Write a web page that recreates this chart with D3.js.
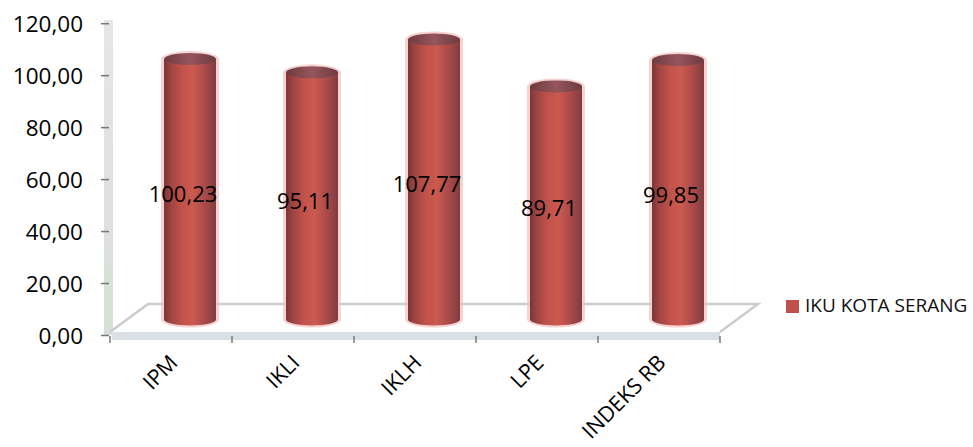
<!DOCTYPE html>
<html>
<head>
<meta charset="utf-8">
<script src="https://cdn.jsdelivr.net/npm/d3@7"></script>
<style>
  html, body { margin: 0; padding: 0; background: #fff; }
  svg { display: block; font-family: "Open Sans", "Liberation Sans", sans-serif; }
</style>
</head>
<body>
<svg id="chart" width="973" height="447"></svg>
<script>
// Indikator kinerja utama, Kota Serang
const categories = ["IPM", "IKLI", "IKLH", "LPE", "INDEKS RB"];
const values = [100.23, 95.11, 107.77, 89.71, 99.85];
const yTicks = [0, 20, 40, 60, 80, 100, 120];
const seriesName = "IKU KOTA SERANG";

const locale = d3.formatLocale({ decimal: ",", thousands: ".", grouping: [3], currency: ["", ""] });
const fmt = locale.format(".2f");

const svg = d3.select("#chart");

const x = d3.scaleBand().domain(categories).range([110, 720]).padding(0);
const y = d3.scaleLinear().domain([0, 120]).range([335, 23.2]);

// 3D depth of the floor (back edge offset) and the bars' plane (half depth)
const depthX = 38, depthY = -31;
const midX = depthX / 2, midY = depthY / 2;

const defs = svg.append("defs");

const wallGrad = defs.append("linearGradient").attr("id", "wall")
  .attr("x1", 0).attr("y1", 0).attr("x2", 0).attr("y2", 1);
wallGrad.append("stop").attr("offset", "0%").attr("stop-color", "#e6e6e6");
wallGrad.append("stop").attr("offset", "100%").attr("stop-color", "#d9ded8");

const bodyGrad = defs.append("linearGradient").attr("id", "body")
  .attr("x1", 0).attr("y1", 0).attr("x2", 1).attr("y2", 0);
[["0%", "#7a3636"], ["12%", "#9c4343"], ["35%", "#c2534b"], ["55%", "#cb5a4f"],
 ["78%", "#ab4a4a"], ["100%", "#7e3d3f"]].forEach(([o, c]) =>
  bodyGrad.append("stop").attr("offset", o).attr("stop-color", c));

const topGrad = defs.append("linearGradient").attr("id", "cap")
  .attr("x1", 0).attr("y1", 0).attr("x2", 1).attr("y2", 0);
[["0%", "#6e3c3e"], ["50%", "#95555c"], ["100%", "#6e3c40"]].forEach(([o, c]) =>
  topGrad.append("stop").attr("offset", o).attr("stop-color", c));

// left wall (edge-on)
svg.append("rect").attr("x", 104).attr("y", 20).attr("width", 9)
  .attr("height", y(0) - 20).attr("fill", "url(#wall)");

// floor slab
const x0 = x.range()[0], x1 = x.range()[1], f = y(0);
svg.append("path")
  .attr("d", `M${x0},${f - 3} L${x0 + depthX},${f + depthY} L${x1 + depthX},${f + depthY} L${x1},${f - 3}`)
  .attr("fill", "none").attr("stroke", "#c9cdce").attr("stroke-width", 2.5);
svg.append("rect").attr("x", x0 + 2).attr("y", f - 3).attr("width", x1 - x0 - 2).attr("height", 8)
  .attr("fill", "#dcdfe1");

// category boundary ticks
svg.append("g").selectAll("line")
  .data(categories.map(c => x(c)).concat([x1]))
  .join("line")
  .attr("x1", d => d).attr("x2", d => d)
  .attr("y1", f + 1).attr("y2", f + 8)
  .attr("stroke", "#7a7a7a").attr("stroke-width", 1.5);

// y axis
const yAxis = svg.append("g").attr("transform", "translate(109,0)")
  .call(d3.axisLeft(y).tickValues(yTicks).tickSize(8).tickPadding(18).tickFormat(fmt));
yAxis.select(".domain").remove();
yAxis.selectAll(".tick line").attr("stroke", "#777").attr("stroke-width", 1.5);
yAxis.selectAll(".tick text").attr("fill", "#000").attr("font-size", 22.5)
  .attr("font-family", "'Open Sans', sans-serif").attr("dy", "0.36em");

// cylinders
const rx = 26, ry = 6;
const bars = svg.append("g").selectAll("g").data(categories.map((c, i) => ({ c, v: values[i] })))
  .join("g");

bars.each(function(d) {
  const g = d3.select(this);
  const cx = x(d.c) + x.bandwidth() / 2 + midX;
  const yb = y(0) + midY;
  const yt = y(d.v) + midY;
  // soft pink fringe
  g.append("path")
    .attr("d", `M${cx - rx - 3},${yt} L${cx - rx - 3},${yb} A${rx + 3},${ry + 2} 0 0 0 ${cx + rx + 3},${yb} L${cx + rx + 3},${yt} A${rx + 3},${ry + 2} 0 0 0 ${cx - rx - 3},${yt} Z`)
    .attr("fill", "#f1c4c4").attr("opacity", 0.75);
  // body
  g.append("path")
    .attr("d", `M${cx - rx},${yt} L${cx - rx},${yb} A${rx},${ry} 0 0 0 ${cx + rx},${yb} L${cx + rx},${yt} Z`)
    .attr("fill", "url(#body)");
  // top cap
  g.append("ellipse").attr("cx", cx).attr("cy", yt).attr("rx", rx).attr("ry", ry)
    .attr("fill", "url(#cap)");
});

// value labels
svg.append("g").selectAll("text").data(categories.map((c, i) => ({ c, v: values[i] })))
  .join("text")
  .attr("x", d => x(d.c) + x.bandwidth() / 2 + 12)
  .attr("y", d => y(d.v / 2) + midY + 7)
  .attr("text-anchor", "middle").attr("dominant-baseline", "middle")
  .attr("font-size", 22).attr("fill", "#000")
  .text(d => fmt(d.v));

// category labels
svg.append("g").selectAll("text").data(categories)
  .join("text")
  .attr("transform", d => `translate(${x(d) + x.bandwidth() / 2 + 8},${f + 29}) rotate(-45)`)
  .attr("text-anchor", "end")
  .attr("font-size", 21.5).attr("fill", "#000")
  .text(d => d);

// legend
const lg = svg.append("g").attr("transform", "translate(786,300)");
lg.append("rect").attr("width", 13).attr("height", 13).attr("fill", "#c0504d");
lg.append("text").attr("x", 19).attr("y", 7).attr("dominant-baseline", "middle")
  .attr("font-size", 19).attr("fill", "#111").text(seriesName);
</script>
</body>
</html>
